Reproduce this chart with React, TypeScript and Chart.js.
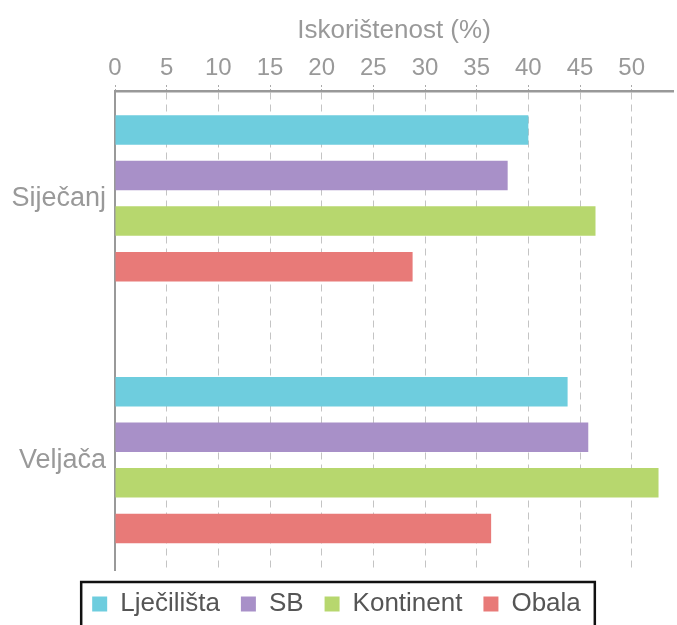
import React, { useEffect, useRef } from "react";
import { Chart, registerables } from "chart.js";

Chart.register(...registerables);

const categories = ["Siječanj", "Veljača"];
const seriesNames = ["Lječilišta", "SB", "Kontinent", "Obala"];
const ljecilista = [40.0, 43.8];
const sb = [38.0, 45.8];
const kontinent = [46.5, 52.6];
const obala = [28.8, 36.4];
const seriesColors = ["#6ecdde", "#a890c8", "#b7d76e", "#e87a78"];
const xTickStep = 5;
const xMax = 54;
const axisTitle = "Iskorištenost (%)";

const FONT = "'Liberation Sans', Arial, Helvetica, sans-serif";

const legendBoxPlugin = {
  id: "legendBox",
  afterDraw(chart: any) {
    const legend = chart.legend;
    if (!legend || !legend.legendHitBoxes || !legend.legendHitBoxes.length) return;
    const hb = legend.legendHitBoxes;
    const first = hb[0];
    const last = hb[hb.length - 1];
    const left = first.left - 11;
    const right = last.left + last.width + 14;
    const top = first.top - 9;
    const ctx = chart.ctx;
    ctx.save();
    ctx.strokeStyle = "#111";
    ctx.lineWidth = 2.5;
    ctx.strokeRect(left, top, right - left, chart.height + 20 - top);
    ctx.restore();
  },
};

export default function App() {
  const ref = useRef<HTMLCanvasElement | null>(null);

  useEffect(() => {
    if (!ref.current) return;
    const allSeries = [ljecilista, sb, kontinent, obala];
    const chart = new Chart(ref.current, {
      type: "bar",
      data: {
        datasets: allSeries.map((vals, si) => ({
          label: seriesNames[si],
          data: vals.map((v, ci) => ({ x: v, y: ci })),
          backgroundColor: seriesColors[si],
          borderWidth: 0,
          categoryPercentage: 0.6963,
          barPercentage: 0.648,
        })),
      },
      options: {
        animation: false,
        responsive: false,
        devicePixelRatio: 1,
        indexAxis: "y",
        layout: { padding: { left: 0, right: 4, top: 0, bottom: -2 } },
        scales: {
          x: {
            type: "linear",
            position: "top",
            min: 0,
            max: xMax,
            afterBuildTicks: (scale: any) => {
              scale.ticks = scale.ticks.filter((t: any) => t.value % xTickStep === 0);
            },
            afterFit: (scale: any) => {
              scale.height = 91;
            },
            ticks: {
              stepSize: xTickStep,
              color: "#999",
              font: { family: FONT, size: 24 },
              padding: 2,
              maxRotation: 0,
            },
            title: {
              display: true,
              text: axisTitle,
              color: "#999",
              font: { family: FONT, size: 26 },
              padding: { top: 15, bottom: 0 },
            },
            grid: {
              color: "#c4c4c4",
              lineWidth: 1,
              drawTicks: true,
              tickLength: 6,
              tickColor: "#aaa",
              tickBorderDash: [2, 2],
            },
            border: { display: true, color: "#999", width: 2.5, dash: [7, 5] },
          },
          y: {
            type: "linear",
            reverse: true,
            offset: false,
            min: -0.41,
            max: 1.42,
            afterBuildTicks: (scale: any) => {
              scale.ticks = categories.map((_, i) => ({ value: i }));
            },
            afterFit: (scale: any) => {
              scale.width = 115;
            },
            ticks: {
              color: "#999",
              font: { family: FONT, size: 27 },
              padding: 9,
              callback: (v: any) => categories[v as number] ?? "",
            },
            grid: { display: false, drawTicks: false },
            border: { display: true, color: "#999", width: 2 },
          },
        },
        plugins: {
          legend: {
            position: "bottom",
            labels: {
              color: "#555",
              font: { family: FONT, size: 26 },
              boxWidth: 15,
              boxHeight: 15,
              padding: 21,
            },
          },
          tooltip: { enabled: false },
        },
      },
      plugins: [legendBoxPlugin],
    } as any);
    return () => chart.destroy();
  }, []);

  return (
    <div style={{ position: "absolute", left: 0, top: 0, width: 677, height: 625, overflow: "hidden", background: "#fff" }}>
      <canvas ref={ref} width={677} height={625} />
    </div>
  );
}
